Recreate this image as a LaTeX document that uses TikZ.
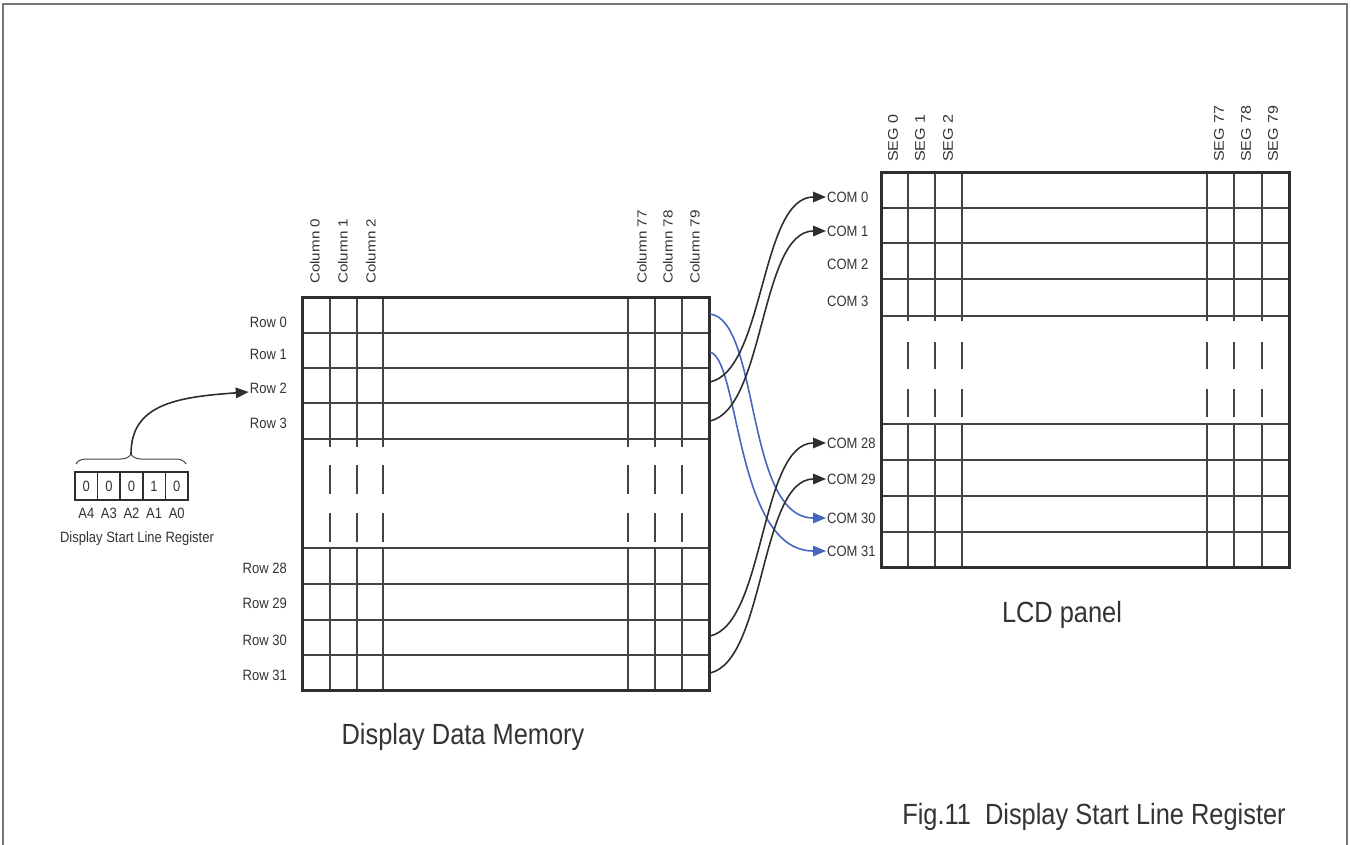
\documentclass[tikz,border=0pt]{standalone}
\usepackage{fontspec}
\setmainfont{Liberation Sans}
\usetikzlibrary{arrows.meta,decorations.pathreplacing}

\definecolor{ink}{HTML}{2e2e2e}
\definecolor{gridc}{HTML}{444444}
\definecolor{txt}{HTML}{333333}
\definecolor{bluec}{HTML}{4766c0}
\definecolor{framec}{HTML}{777777}

% text slightly stretched vertically (tall narrow lettering)
\newcommand{\vst}[1]{\scalebox{1}[1.15]{#1}}
\newcommand{\hst}[1]{\scalebox{1.15}[1]{#1}}

\begin{document}
\begin{tikzpicture}[x=1pt,y=-1pt,
  lbl/.style={text=txt,font=\fontsize{13}{15}\selectfont,inner sep=1pt},
  rowlbl/.style={lbl,anchor=east},
  comlbl/.style={lbl,anchor=west},
  collbl/.style={lbl,font=\fontsize{13.2}{15}\selectfont,rotate=90,anchor=west},
  seglbl/.style={lbl,font=\fontsize{14}{16}\selectfont,rotate=90,anchor=west},
  title/.style={text=txt,font=\fontsize{25.4}{30}\selectfont,inner sep=1pt},
  outer/.style={draw=ink,line width=3pt},
  inner/.style={draw=gridc,line width=1.7pt},
  sepline/.style={draw=gridc,line width=2.1pt},
  link/.style={draw=ink,line width=1.6pt,-{Triangle[length=13pt,width=10.5pt]}},
  bluelink/.style={draw=bluec,line width=1.6pt,-{Triangle[length=13pt,width=10.5pt]}},
  cell/.style={draw=ink,line width=1.6pt,minimum width=22.6pt,minimum height=28pt,
    inner sep=0pt,text=txt,font=\fontsize{13}{15}\selectfont}
]
\useasboundingbox (0,0) rectangle (1351,845);

% page frame
\draw[framec,line width=2pt] (2.5,845) -- (2.5,4.5) -- (1347,4.5) -- (1347,845);

% ---------- display data memory ----------
\foreach \y in {333,368,403,584,620,655} \draw[inner] (302,\y) -- (709,\y);
\foreach \y in {439,548} \draw[sepline] (302,\y) -- (709,\y);
\foreach \x in {330,357,383,628,655,682} {
  \draw[inner] (\x,297) -- (\x,447);
  \draw[inner] (\x,465) -- (\x,494);
  \draw[inner] (\x,513) -- (\x,542);
  \draw[inner] (\x,548) -- (\x,690);
}
\node[outer,minimum width=407pt,minimum height=393pt,inner sep=0pt] (mem) at (505.5,493.5) {};

\foreach \n/\y in {0/322,1/354,2/388,3/423,28/568,29/603,30/640,31/675}
  \node[rowlbl] (row\n) at (288,\y) {\vst{Row \n}};
\foreach \n/\x in {0/315,1/343,2/371,77/642,78/668,79/695}
  \node[collbl] (col\n) at (\x,285) {\hst{Column \n}};

% ---------- LCD panel ----------
\foreach \y in {208,243,279,460,496,532} \draw[inner] (881,\y) -- (1289,\y);
\foreach \y in {316,424} \draw[sepline] (881,\y) -- (1289,\y);
\foreach \x in {908,935,962,1207,1234,1262} {
  \draw[inner] (\x,173) -- (\x,321);
  \draw[inner] (\x,342) -- (\x,369);
  \draw[inner] (\x,389) -- (\x,417);
  \draw[inner] (\x,424) -- (\x,567);
}
\node[outer,minimum width=408pt,minimum height=394pt,inner sep=0pt] (lcd) at (1085,370) {};

\foreach \n/\x in {0/893,1/920,2/948,77/1219,78/1246,79/1273}
  \node[seglbl] (seg\n) at (\x,163) {\hst{SEG \n}};
\foreach \n/\y in {0/197,1/231,2/264,3/301,28/443,29/479,30/518,31/551}
  \node[comlbl] (com\n) at (826,\y) {\vst{COM \n}};

% ---------- row-to-COM mapping ----------
\coordinate (m0) at (710,314);
\coordinate (m1) at (710,352);
\coordinate (m2) at (710,382);
\coordinate (m3) at (710,421);
\coordinate (m30) at (710,636);
\coordinate (m31) at (710,673);
\draw[bluelink] (m0) .. controls (760,320) and (745,518) .. (com30.west);
\draw[bluelink] (m1) .. controls (740,360) and (735,551) .. (com31.west);
\draw[link] (m2) .. controls (765,370) and (760,197) .. (com0.west);
\draw[link] (m3) .. controls (765,409) and (760,231) .. (com1.west);
\draw[link] (m30) .. controls (765,624) and (760,443) .. (com28.west);
\draw[link] (m31) .. controls (765,661) and (760,479) .. (com29.west);

% ---------- display start line register ----------
\foreach \i/\d [count=\k from 0] in {4/0,3/0,2/0,1/1,0/0} {
  \node[cell] (bit\i) at ({86.3+22.6*\k},486) {\vst{\d}};
  \node[lbl] (addr\i) at ({86.3+22.6*\k},513) {\vst{A\i}};
}
\node[lbl] (regname) at (137,539) {\vst{Display Start Line Register}};
\draw[decorate,decoration={brace,amplitude=10pt},draw=gridc,line width=1pt]
  (76,464) -- (186,464);
\coordinate (bracetip) at (131,454);
\draw[link] (bracetip) .. controls (131,405) and (175,397) .. ([yshift=-4pt]row2.west);

% ---------- captions ----------
\node[title] (memtitle) at (463,737) {\vst{Display Data Memory}};
\node[title] (lcdtitle) at (1062,615) {\vst{LCD panel}};
\node[title] (figtitle) at (1094,817) {\vst{Fig.11\ \ Display Start Line Register}};
\end{tikzpicture}
\end{document}
